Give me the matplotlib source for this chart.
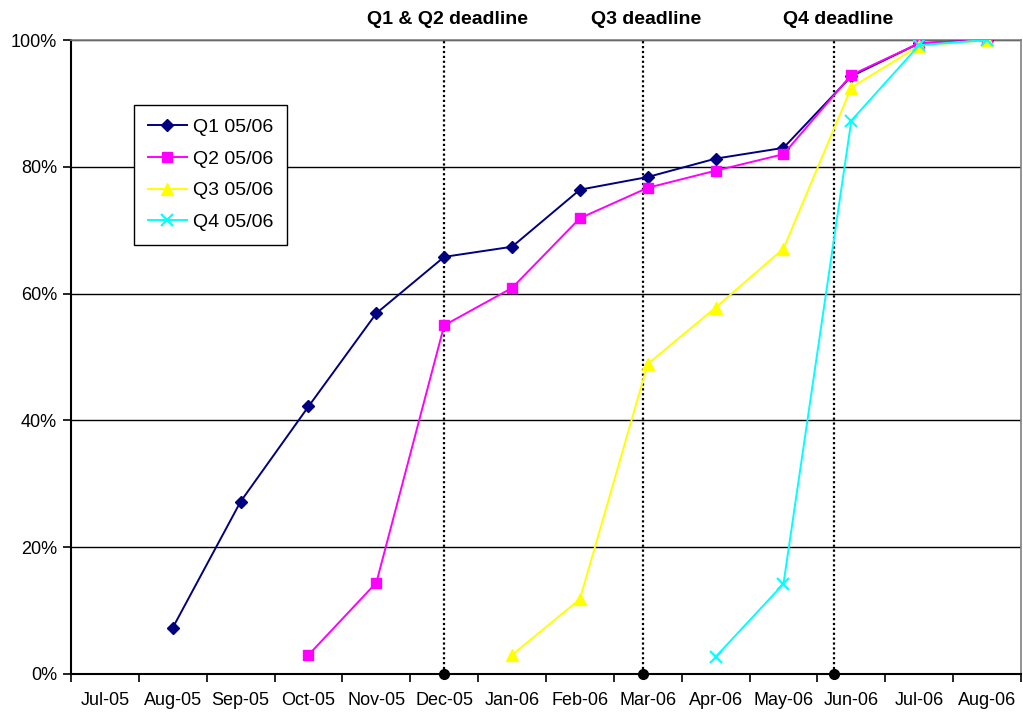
import matplotlib
matplotlib.use("Agg")
import matplotlib.pyplot as plt
from matplotlib.ticker import FixedLocator, FuncFormatter
import matplotlib.transforms as mtransforms

plt.rcParams['font.family'] = ['Liberation Sans', 'DejaVu Sans']

months = ["Jul-05", "Aug-05", "Sep-05", "Oct-05", "Nov-05", "Dec-05", "Jan-06",
          "Feb-06", "Mar-06", "Apr-06", "May-06", "Jun-06", "Jul-06", "Aug-06"]

# cumulative completion (%) for each quarter's return, starting month index
q1_start = 1
q1_values = [7.3, 27.2, 42.2, 56.9, 65.8, 67.4, 76.4, 78.4, 81.3, 83.0, 94.3, 99.5, 100.0]
q2_start = 3
q2_values = [3.0, 14.4, 55.0, 60.9, 71.9, 76.7, 79.4, 82.0, 94.5, 99.5, 100.0]
q3_start = 6
q3_values = [3.0, 11.8, 48.9, 57.8, 67.1, 92.5, 99.1, 100.0]
q4_start = 9
q4_values = [2.7, 14.2, 87.3, 99.2, 100.0]

series_labels = ["Q1 05/06", "Q2 05/06", "Q3 05/06", "Q4 05/06"]

# deadlines, as positions on the month axis
deadline_labels = ["Q1 & Q2 deadline", "Q3 deadline", "Q4 deadline"]
deadline_pos = [5.0, 7.93, 10.75]

fig = plt.figure(figsize=(10.23, 7.16), dpi=100)
ax = fig.add_axes([0.0694, 0.0587, 0.9286, 0.8853])

styles = [
    dict(color="#000080", marker="D", markersize=6),
    dict(color="#FF00FF", marker="s", markersize=7.5),
    dict(color="#FFFF00", marker="^", markersize=8),
    dict(color="#00FFFF", marker="x", markersize=8, markeredgewidth=1.5),
]
starts = [q1_start, q2_start, q3_start, q4_start]
values = [q1_values, q2_values, q3_values, q4_values]

handles = []
for st, vals, lab, sty in zip(starts, values, series_labels, styles):
    xs = list(range(st, st + len(vals)))
    h, = ax.plot(xs, vals, linewidth=1.4, label=lab, zorder=4, **sty)
    handles.append(h)

blend = mtransforms.blended_transform_factory(ax.transData, ax.transAxes)
for lab, xp in zip(deadline_labels, deadline_pos):
    ax.axvline(xp, color="black", linestyle=(0, (1, 1.2)), linewidth=1.6, zorder=3)
    ax.plot([xp], [0], marker="o", color="black", markersize=7, clip_on=False, zorder=6)
    ax.text(xp + 0.05, 1.033, lab, transform=blend, ha="center", va="center",
            fontsize=14, fontweight="bold")

ax.set_xlim(-0.5, len(months) - 0.5)
ax.set_ylim(0, 100)

ax.set_yticks([0, 20, 40, 60, 80, 100])
ax.yaxis.set_major_formatter(FuncFormatter(lambda v, p: f"{int(round(v))}%"))
ax.yaxis.grid(True, color="black", linewidth=1.0)
ax.set_axisbelow(True)

ax.set_xticks(range(len(months)))
ax.set_xticklabels(months)
ax.xaxis.set_minor_locator(FixedLocator([i - 0.5 for i in range(len(months) + 1)]))
ax.tick_params(axis="x", which="major", length=0, pad=13, labelsize=13)
ax.tick_params(axis="x", which="minor", length=6, width=1.2, direction="out")
ax.tick_params(axis="y", which="major", length=6, width=1.2, direction="out",
               pad=4, labelsize=13)

for side in ["left", "bottom"]:
    ax.spines[side].set_color("black")
    ax.spines[side].set_linewidth(1.5)
for side in ["top", "right"]:
    ax.spines[side].set_color("#808080")
    ax.spines[side].set_linewidth(1.2)

leg = ax.legend(handles=handles, loc="upper left",
                bbox_to_anchor=(134 / 1023, 1 - 105 / 716),
                bbox_transform=fig.transFigure, fontsize=14,
                frameon=True, fancybox=False, shadow=False,
                edgecolor="black", framealpha=1, borderpad=0.7,
                labelspacing=0.72, handlelength=2.0, handletextpad=0.35,
                borderaxespad=0)
leg.get_frame().set_linewidth(1.0)

fig.savefig("out.png", dpi=100, facecolor="white")
